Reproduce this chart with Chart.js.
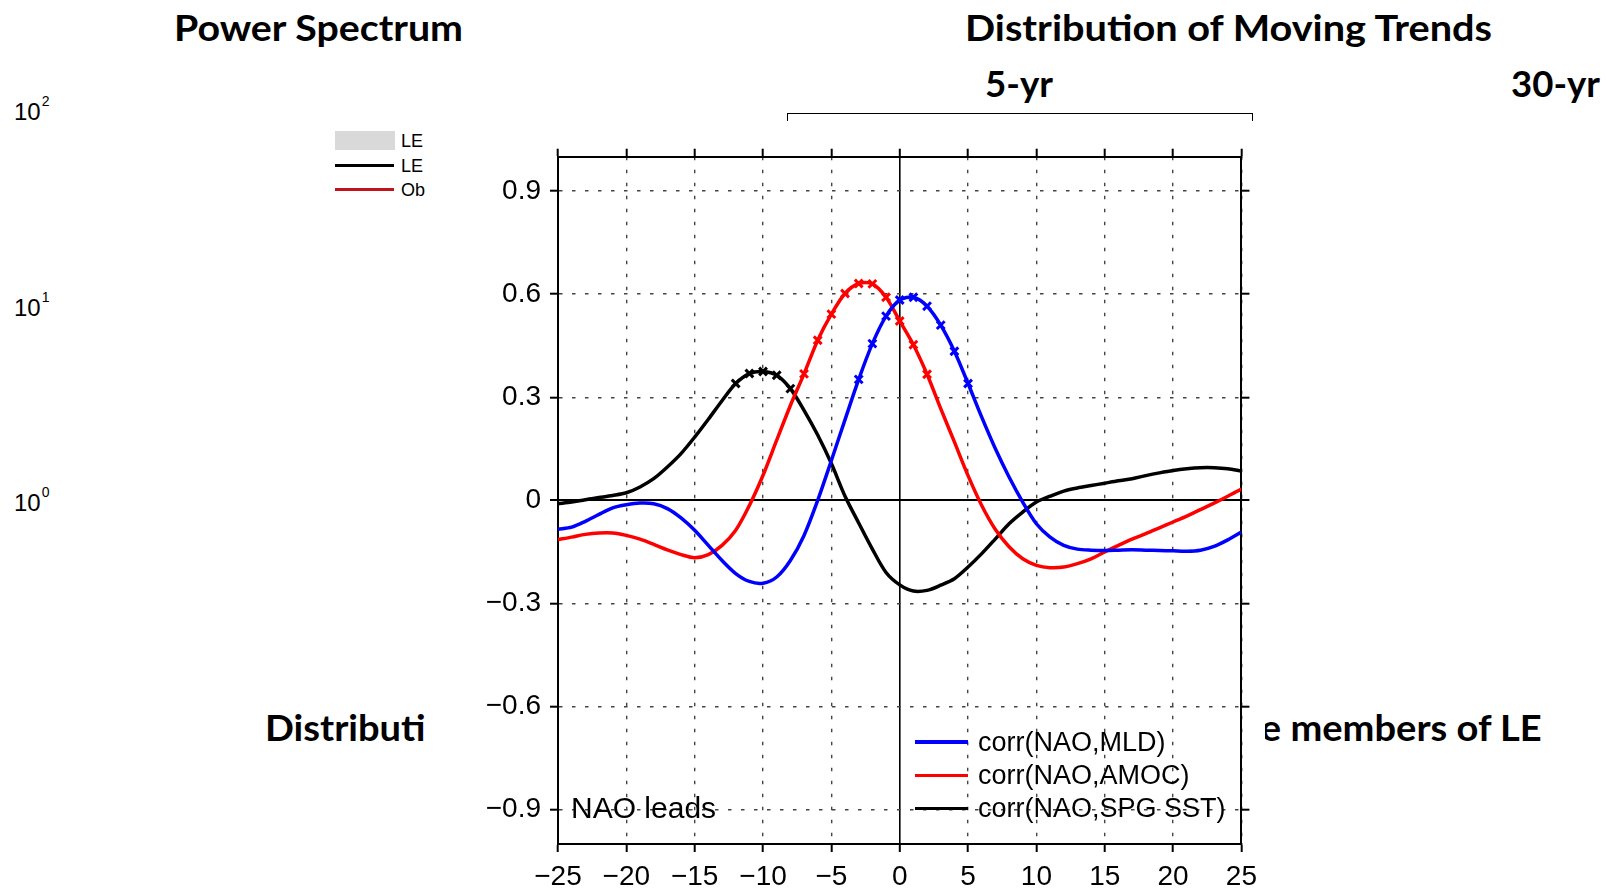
<!DOCTYPE html>
<html lang="en">
<head>
<meta charset="UTF-8">
<title>NAO lag correlations</title>
<script src="https://cdn.jsdelivr.net/npm/chart.js"></script>
<style>
  body { margin: 0; width: 1606px; height: 889px; overflow: hidden; background: #fff; position: relative;
         font-family: "Liberation Sans", Arial, sans-serif; color: #000; }
  .slide { position: absolute; font-family: Lato, "Open Sans", sans-serif; font-weight: 700; font-size: 37px;
           line-height: 1; white-space: nowrap; transform-origin: left center; z-index: 0; }
  .pow { position: absolute; left: 14px; font-size: 24px; line-height: 1; }
  .pow sup { font-size: 14px; position: relative; top: -6px; vertical-align: top; margin-left: 1px; }
  .small { position: absolute; left: 401px; font-size: 18px; line-height: 1; }
  .sw { position: absolute; }
  #box { position: absolute; left: 425px; top: 124px; width: 840px; height: 765px; background: #fff; z-index: 1; }
  #bracket { position: absolute; left: 787px; top: 113px; width: 464px; height: 7px; z-index: 2;
             border-top: 1.5px solid #000; border-left: 1.5px solid #000; border-right: 1.5px solid #000; }
  .lab { position: absolute; font-size: 27px; line-height: 28px; white-space: nowrap; z-index: 3; }
  .key { position: absolute; left: 915px; width: 53px; height: 3.5px; z-index: 3; }
</style>
</head>
<body>
  <!-- slide behind the figure -->
  <div class="slide fit" data-w="289" style="left:174px; top:8px;">Power Spectrum</div>
  <div class="slide fit" data-w="527" style="left:965px; top:8px;">Distribution of Moving Trends</div>
  <div class="slide fit" data-w="68" style="left:985px; top:64px;">5-yr</div>
  <div class="slide fit" data-w="89" style="left:1511px; top:64px;">30-yr</div>
  <div class="slide nofit" style="left:265px; top:708px;">Distribution</div>
  <div class="slide nofit" style="right:64px; top:708px; transform-origin: right center;">the members of LE</div>

  <div class="pow" style="top:100px;">10<sup>2</sup></div>
  <div class="pow" style="top:296px;">10<sup>1</sup></div>
  <div class="pow" style="top:491px;">10<sup>0</sup></div>

  <div class="sw" style="left:335px; top:131px; width:60px; height:19px; background:#d9d9d9;"></div>
  <div class="sw" style="left:335px; top:163.5px; width:59px; height:3px; background:#000;"></div>
  <div class="sw" style="left:335px; top:188px; width:59px; height:3px; background:#c0141c;"></div>
  <div class="small" style="top:132px;">LE</div>
  <div class="small" style="top:157px;">LE</div>
  <div class="small" style="top:181px;">Ob</div>

  <div id="bracket"></div>

  <div id="box"><canvas id="myChart" width="840" height="765"></canvas></div>

  <div class="key" style="top:740px; background:#0000ff;"></div>
  <div class="key" style="top:773.5px; background:#ff0000;"></div>
  <div class="key" style="top:806.5px; background:#000;"></div>
  <div class="lab" style="left:978px; top:728px;">corr(NAO,MLD)</div>
  <div class="lab" style="left:978px; top:761px;">corr(NAO,AMOC)</div>
  <div class="lab" style="left:978px; top:794px;">corr(NAO,SPG SST)</div>
  <div class="lab" style="left:571px; top:793px; font-size:30px; line-height:30px;">NAO leads</div>

<script>
// lag in years (negative: NAO leads)
const lags = [-25,-24,-23,-22,-21,-20,-19,-18,-17,-16,-15,-14,-13,-12,-11,-10,-9,-8,-7,-6,-5,-4,-3,-2,-1,
              0,1,2,3,4,5,6,7,8,9,10,11,12,13,14,15,16,17,18,19,20,21,22,23,24,25];

const corrMLD = [-0.084,-0.078,-0.061,-0.041,-0.022,-0.013,-0.008,-0.010,-0.024,-0.051,-0.087,-0.131,-0.175,-0.213,-0.236,-0.241,-0.223,-0.175,-0.102,0.000,0.116,0.235,0.352,0.456,0.536,
                 0.583,0.591,0.565,0.510,0.434,0.340,0.242,0.150,0.068,-0.005,-0.068,-0.107,-0.131,-0.142,-0.145,-0.146,-0.145,-0.144,-0.145,-0.146,-0.147,-0.148,-0.145,-0.134,-0.115,-0.092];

const corrAMOC = [-0.114,-0.107,-0.099,-0.095,-0.095,-0.102,-0.113,-0.128,-0.144,-0.158,-0.167,-0.158,-0.131,-0.087,-0.015,0.073,0.175,0.276,0.368,0.466,0.542,0.602,0.631,0.630,0.591,
                  0.522,0.453,0.367,0.267,0.170,0.072,-0.015,-0.085,-0.135,-0.170,-0.189,-0.196,-0.194,-0.184,-0.170,-0.150,-0.131,-0.113,-0.097,-0.080,-0.063,-0.046,-0.027,-0.008,0.012,0.033];

const corrSST = [-0.010,-0.005,0.002,0.008,0.014,0.022,0.039,0.063,0.097,0.136,0.184,0.236,0.290,0.340,0.369,0.375,0.364,0.325,0.262,0.190,0.107,0.012,-0.066,-0.142,-0.210,
                 -0.246,-0.264,-0.262,-0.247,-0.228,-0.194,-0.155,-0.112,-0.068,-0.034,-0.005,0.012,0.027,0.036,0.043,0.050,0.057,0.063,0.072,0.080,0.087,0.092,0.095,0.095,0.092,0.085];

// lags marked with an x (significant)
const markMLD = [-3,-2,-1,0,1,2,3,4,5];
const markAMOC = [-7,-6,-5,-4,-3,-2,-1,0,1,2];
const markSST = [-12,-11,-10,-9,-8];

const xTickVals = [-25,-20,-15,-10,-5,0,5,10,15,20,25];
const xTickLabels = ['\u221225','\u221220','\u221215','\u221210','\u22125','0','5','10','15','20','25'];
const yTickVals = [-0.9,-0.6,-0.3,0,0.3,0.6,0.9];
const yTickLabels = ['\u22120.9','\u22120.6','\u22120.3','0','0.3','0.6','0.9'];

function series(label, vals, color, marked) {
  return {
    label: label,
    data: lags.map((x, i) => ({x: x, y: vals[i]})),
    borderColor: color,
    backgroundColor: color,
    borderWidth: 3.5,
    tension: 0.3,
    fill: false,
    pointStyle: 'crossRot',
    pointRadius: ctx => marked.includes(lags[ctx.dataIndex]) ? 5.5 : 0,
    pointHoverRadius: 0,
    pointBorderWidth: 3,
    pointBorderColor: color
  };
}

const isZero = ctx => ctx.tick && Math.abs(ctx.tick.value) < 1e-9;
const tickFont = {family: '"Liberation Sans", Arial, sans-serif', size: 28};

function axis(pos, vals, labels, size, showLabels) {
  const vertical = (pos === 'left' || pos === 'right');
  return {
    type: 'linear',
    position: pos,
    min: vertical ? -1 : -25,
    max: vertical ? 1 : 25,
    afterBuildTicks: s => { s.ticks = vals.map(v => ({value: v})); },
    afterFit: s => { if (vertical) s.width = size; else s.height = size; },
    ticks: {
      display: showLabels,
      callback: (v, i) => labels[i],
      font: tickFont,
      color: '#000',
      padding: pos === 'left' ? 9 : 8,
      maxRotation: 0,
      autoSkip: false
    },
    grid: {
      drawOnChartArea: showLabels,
      color: ctx => isZero(ctx) ? '#000' : '#444',
      lineWidth: ctx => isZero(ctx) ? (vertical ? 2 : 1.6) : 1.4,
      tickColor: '#000',
      tickWidth: 2,
      tickLength: 8,
      tickBorderDash: []
    },
    border: {
      display: true,
      color: '#000',
      width: 2,
      dash: ctx => (ctx.tick && !isZero(ctx)) ? [3.5, 9.5] : []
    }
  };
}

const config = {
  type: 'line',
  data: {
    datasets: [
      series('corr(NAO,MLD)', corrMLD, '#0000ff', markMLD),
      series('corr(NAO,AMOC)', corrAMOC, '#ff0000', markAMOC),
      series('corr(NAO,SPG SST)', corrSST, '#000000', markSST)
    ]
  },
  options: {
    responsive: false,
    animation: false,
    events: [],
    layout: {padding: 0},
    plugins: {legend: {display: false}, tooltip: {enabled: false}},
    scales: {
      x: axis('bottom', xTickVals, xTickLabels, 45, true),
      x2: axis('top', xTickVals, xTickLabels, 32.7, false),
      y: axis('left', yTickVals, yTickLabels, 133, true),
      y2: axis('right', yTickVals, yTickLabels, 23, false)
    }
  }
};

const myChart = new Chart(document.getElementById('myChart'), config);

// squeeze the slide titles to the widths seen in the picture
function fitTitles() {
  const ks = [];
  document.querySelectorAll('.fit').forEach(el => {
    el.style.transform = '';
    const k = parseFloat(el.dataset.w) / el.getBoundingClientRect().width;
    ks.push(k);
    el.style.transform = 'scaleX(' + k + ')';
  });
  const kk = ks.reduce((a, b) => a + b, 0) / ks.length;
  document.querySelectorAll('.nofit').forEach(el => { el.style.transform = 'scaleX(' + kk + ')'; });
}
fitTitles();
document.fonts.ready.then(fitTitles);
</script>
</body>
</html>
